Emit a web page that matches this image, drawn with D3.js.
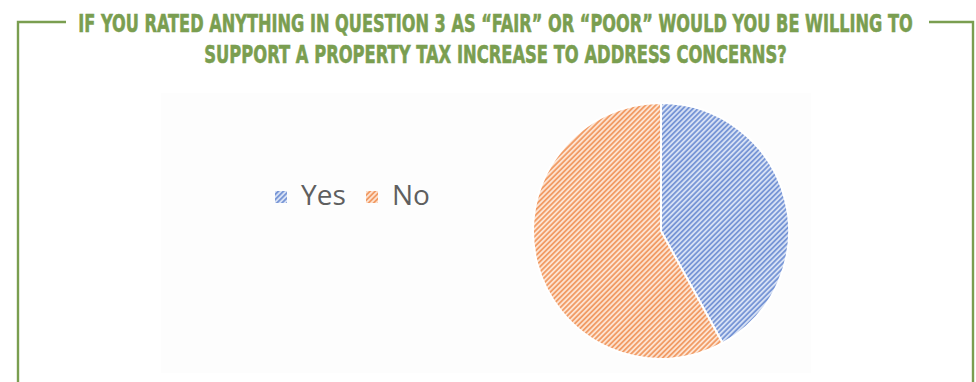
<!DOCTYPE html>
<html>
<head>
<meta charset="utf-8">
<script src="https://cdn.jsdelivr.net/npm/d3@7/dist/d3.min.js"></script>
<style>
  html, body { margin: 0; padding: 0; background: #ffffff; }
  svg { display: block; }
</style>
</head>
<body>
<svg id="chart" width="976" height="382"></svg>
<script>
// Survey answers (percent of respondents)
const categories = ["Yes", "No"];
const values = [42, 58];
const titleLines = [
  "IF YOU RATED ANYTHING IN QUESTION 3 AS \u201CFAIR\u201D OR \u201CPOOR\u201D WOULD YOU BE WILLING TO",
  "SUPPORT A PROPERTY TAX INCREASE TO ADDRESS CONCERNS?"
];

const svg = d3.select("#chart");
const green = "#7a9e50";

// Hatch fills: a saturated stripe over a pale ground
const hatch = {
  Yes: { line: "#7896d6", ground: "#d6e0f4" },
  No:  { line: "#f19c66", ground: "#fde3d1" }
};
const period = 3.6;
const defs = svg.append("defs");
categories.forEach(c => {
  const p = defs.append("pattern")
    .attr("id", "hatch-" + c)
    .attr("patternUnits", "userSpaceOnUse")
    .attr("width", period).attr("height", period)
    .attr("patternTransform", "rotate(45)");
  p.append("rect").attr("width", period).attr("height", period).attr("fill", hatch[c].ground);
  p.append("rect").attr("width", period * 0.5).attr("height", period).attr("fill", hatch[c].line);
});

// Faint chart area
svg.append("rect")
  .attr("x", 161).attr("y", 93).attr("width", 650).attr("height", 280)
  .attr("fill", "#fdfdfd");

// Frame brackets
svg.append("path")
  .attr("d", "M66,22H18V382")
  .attr("fill", "none").attr("stroke", green).attr("stroke-width", 2.4);
svg.append("path")
  .attr("d", "M929,22H973V382")
  .attr("fill", "none").attr("stroke", green).attr("stroke-width", 2.4);

// Title: tall condensed capitals, squeezed horizontally to the line width
const titleFont = "'DejaVu Sans Condensed', 'Liberation Sans Narrow', sans-serif";
const titleSpecs = [
  { y: 31.7, width: 835 },
  { y: 62.5, width: 583 }
];
const titleCx = 495.5;
titleLines.forEach((t, i) => {
  const txt = svg.append("text")
    .attr("text-anchor", "middle")
    .attr("font-family", titleFont)
    .attr("font-weight", "bold")
    .attr("font-size", 25.5)
    .attr("fill", green)
    .attr("stroke", green)
    .attr("stroke-width", 0.6)
    .text(t);
  const w = txt.node().getComputedTextLength();
  const sx = titleSpecs[i].width / w;
  txt.attr("transform", `translate(${titleCx},${titleSpecs[i].y}) scale(${sx},1)`);
});

// Pie
const cx = 661, cy = 231, r = 128;
const pie = d3.pie().sort(null).value(d => d.value);
const arc = d3.arc().innerRadius(0).outerRadius(r);
const data = categories.map((c, i) => ({ cat: c, value: values[i] }));
svg.append("g")
  .attr("transform", `translate(${cx},${cy})`)
  .selectAll("path")
  .data(pie(data))
  .join("path")
  .attr("d", arc)
  .attr("fill", d => `url(#hatch-${d.data.cat})`)
  .attr("stroke", "#ffffff")
  .attr("stroke-width", 2);

// Legend
const legendX = [275, 366];
const legend = svg.append("g");
categories.forEach((c, i) => {
  legend.append("rect")
    .attr("x", legendX[i]).attr("y", 191)
    .attr("width", 12).attr("height", 12)
    .attr("fill", `url(#hatch-${c})`);
  legend.append("text")
    .attr("x", legendX[i] + 26).attr("y", 205)
    .attr("font-family", "'Open Sans', 'Noto Sans', sans-serif")
    .attr("font-size", 28)
    .attr("fill", "#5f5f5f")
    .text(c);
});
</script>
</body>
</html>
